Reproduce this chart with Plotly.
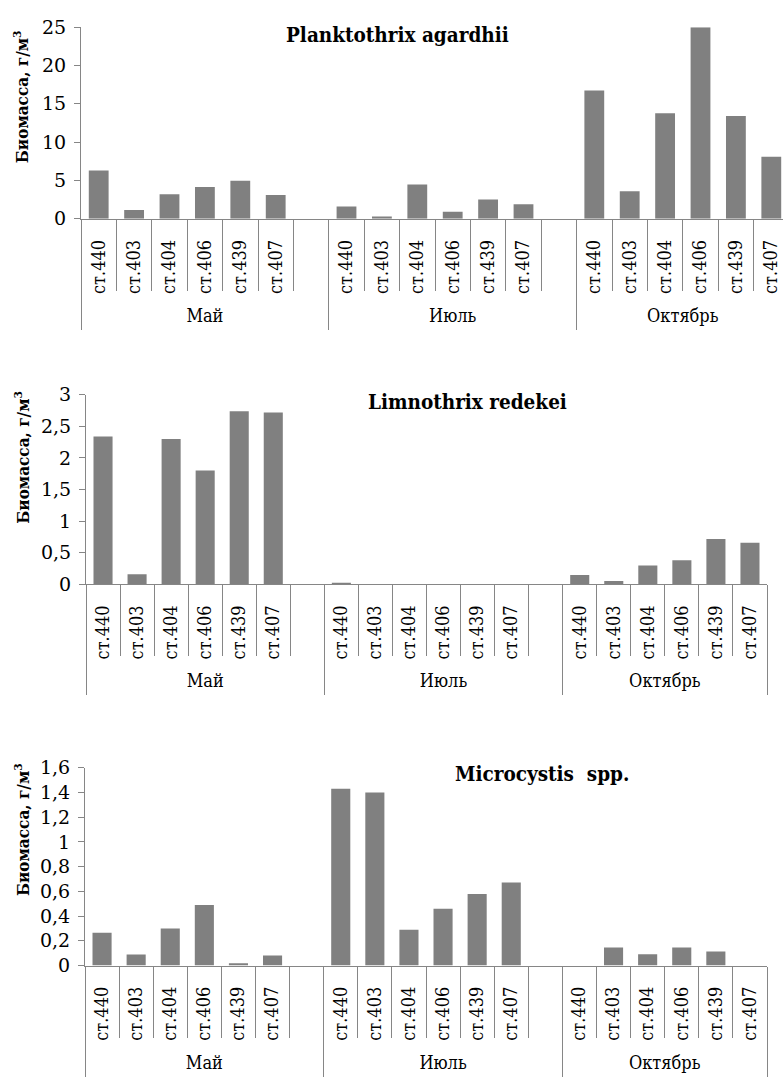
import plotly.graph_objects as go

# Sampling layout: three months, six stations each
months = ["Май", "Июль", "Октябрь"]
stations = ["ст.440", "ст.403", "ст.404", "ст.406", "ст.439", "ст.407"]

# Biomass, g/m3, per month (stations in the order above)
planktothrix = {
    "Май": [6.3, 1.15, 3.2, 4.15, 4.95, 3.1],
    "Июль": [1.6, 0.3, 4.45, 0.9, 2.5, 1.9],
    "Октябрь": [16.75, 3.6, 13.75, 25.0, 13.4, 8.1],
}
limnothrix = {
    "Май": [2.34, 0.155, 2.3, 1.8, 2.74, 2.72],
    "Июль": [0.01, 0.0, 0.0, 0.0, 0.0, 0.0],
    "Октябрь": [0.145, 0.05, 0.295, 0.38, 0.715, 0.655],
}
microcystis = {
    "Май": [0.265, 0.09, 0.30, 0.49, 0.018, 0.082],
    "Июль": [1.43, 1.40, 0.29, 0.46, 0.578, 0.672],
    "Октябрь": [0.0, 0.147, 0.092, 0.145, 0.113, 0.0],
}

titles = ["Planktothrix agardhii", "Limnothrix redekei", "Microcystis\u00a0 spp."]
datasets = [planktothrix, limnothrix, microcystis]
y_ranges = [[0, 25], [0, 3], [0, 1.6]]
y_dticks = [5, 0.5, 0.2]
y_title = "Биомасса, г/м<sup>3</sup>"

SERIF = "DejaVu Serif"
SERIF_C = "DejaVu Serif Condensed, DejaVu Serif"
BAR = "#808080"
AXIS = "#868686"
W, H = 783, 1086

# Category slots: each month gets its stations plus one empty slot
# (the last month has no trailing gap)
slots_per_month = len(stations) + 1
positions = []
for mi, m in enumerate(months):
    positions.append([mi * slots_per_month + si for si in range(len(stations))])
n_slots = len(months) * slots_per_month - 1
station_ticks = [p for row in positions for p in row]
station_text = stations * len(months)
slot_bounds = [i - 0.5 for i in range(n_slots + 1)]
group_bounds = [mi * slots_per_month - 0.5 for mi in range(len(months))] + [n_slots - 0.5]
group_centers = [(a + b) / 2 for a, b in zip(group_bounds[:-1], group_bounds[1:])]

# Pixel frame of each panel: (left, right, axis baseline, top) and x-range end
frames = [
    dict(left=81, right=783, base=212, top=16.5, xmax=n_slots - 0.5 - 6 / 35.4),
    dict(left=86, right=767, base=585, top=391.7, xmax=n_slots - 0.5),
    dict(left=85, right=767, base=974.3, top=772.3, xmax=n_slots - 0.5),
]
title_pos = [(397, 24), (467, 399), (542, 779)]
ytitle_pos = [(21, 88), (22, 456), (22, 836)]

fig = go.Figure()
layout = dict(
    width=W, height=H,
    margin=dict(l=0, r=0, t=0, b=0),
    paper_bgcolor="white", plot_bgcolor="white",
    showlegend=False, bargap=0.44,
    separators=", ",
    font=dict(family=SERIF_C, size=18, color="black"),
    annotations=[],
)

for k, (data, fr) in enumerate(zip(datasets, frames)):
    xa = "x" if k == 0 else f"x{2 * k + 1}"
    xg = f"x{2 * k + 2}"
    ya = "y" if k == 0 else f"y{k + 1}"
    xs, ys = [], []
    for mi, m in enumerate(months):
        xs += positions[mi]
        ys += data[m]
    fig.add_trace(go.Bar(x=xs, y=ys, marker=dict(color=BAR, line=dict(width=0)),
                         xaxis=xa, yaxis=ya, hoverinfo="x+y"))
    # invisible carrier so the month axis gets drawn
    fig.add_trace(go.Scatter(x=group_centers, y=[0] * len(months), mode="markers",
                             marker=dict(opacity=0), xaxis=xg, yaxis=ya,
                             hoverinfo="skip"))

    dom_x = [fr["left"] / W, fr["right"] / W]
    dom_y = [1 - fr["base"] / H, 1 - fr["top"] / H]
    xrange = [-0.5, fr["xmax"]]
    xkey = "xaxis" if k == 0 else f"xaxis{2 * k + 1}"
    gkey = f"xaxis{2 * k + 2}"
    ykey = "yaxis" if k == 0 else f"yaxis{k + 1}"

    layout[xkey] = dict(
        domain=dom_x, range=xrange, anchor=ya,
        showline=True, linecolor=AXIS, linewidth=1,
        showgrid=False, zeroline=False,
        tickmode="array", tickvals=station_ticks, ticktext=station_text,
        ticks="", tickangle=-90, ticklabelstandoff=13,
        ticklabeloverflow="allow",
        tickfont=dict(size=18, family=SERIF_C),
        minor=dict(tickmode="array", tickvals=slot_bounds, ticks="outside",
                   ticklen=71, tickcolor=AXIS, tickwidth=1, showgrid=False),
    )
    layout[gkey] = dict(
        domain=dom_x, range=xrange, anchor=ya, overlaying=xa,
        showline=False, showgrid=False, zeroline=False,
        tickmode="array", tickvals=group_centers, ticktext=months,
        ticks="", ticklabelstandoff=84, ticklabeloverflow="allow",
        tickfont=dict(size=18, family=SERIF_C),
        minor=dict(tickmode="array", tickvals=group_bounds, ticks="outside",
                   ticklen=110, tickcolor=AXIS, tickwidth=1, showgrid=False),
    )
    layout[ykey] = dict(
        domain=dom_y, range=y_ranges[k], anchor=xa,
        showline=True, linecolor=AXIS, linewidth=1,
        showgrid=False, zeroline=False,
        tickmode="linear", tick0=0, dtick=y_dticks[k],
        ticks="outside", ticklen=6, tickcolor=AXIS,
        ticklabelstandoff=4, tickfont=dict(size=19, family=SERIF),
    )

    tx, ty = title_pos[k]
    layout["annotations"].append(dict(
        text=f"<b>{titles[k]}</b>", x=tx / W, y=1 - ty / H,
        xref="paper", yref="paper", xanchor="center", yanchor="middle",
        showarrow=False, font=dict(size=20.5, family=SERIF_C),
    ))
    ax_, ay_ = ytitle_pos[k]
    layout["annotations"].append(dict(
        text=f"<b>{y_title}</b>", x=ax_ / W, y=1 - ay_ / H,
        xref="paper", yref="paper", xanchor="center", yanchor="middle",
        textangle=-90, showarrow=False, font=dict(size=17, family=SERIF_C),
    ))

fig.update_layout(**layout)
fig.write_html("out.html")
